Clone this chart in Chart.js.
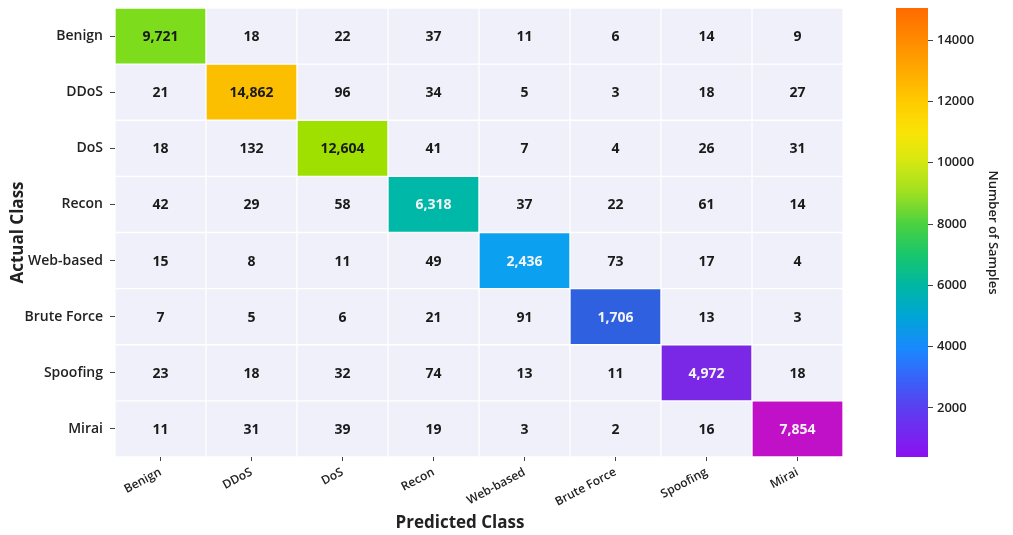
<!DOCTYPE html>
<html>
<head>
<meta charset="utf-8">
<script src="https://cdn.jsdelivr.net/npm/chart.js@4.4.1/dist/chart.umd.min.js"></script>
<style>
  html, body { margin: 0; padding: 0; background: #ffffff; }
  #wrap { position: relative; width: 1013px; height: 535px; }
  #main { position: absolute; left: 0; top: 0; }
  #cbar { position: absolute; left: 860px; top: 0; }
</style>
</head>
<body>
<div id="wrap">
  <canvas id="main" width="860" height="535"></canvas>
  <canvas id="cbar" width="153" height="535"></canvas>
</div>
<script>
// ---- data ----
const classes = ['Benign', 'DDoS', 'DoS', 'Recon', 'Web-based', 'Brute Force', 'Spoofing', 'Mirai'];
const rowBenign     = [9721, 18, 22, 37, 11, 6, 14, 9];
const rowDDoS       = [21, 14862, 96, 34, 5, 3, 18, 27];
const rowDoS        = [18, 132, 12604, 41, 7, 4, 26, 31];
const rowRecon      = [42, 29, 58, 6318, 37, 22, 61, 14];
const rowWebBased   = [15, 8, 11, 49, 2436, 73, 17, 4];
const rowBruteForce = [7, 5, 6, 21, 91, 1706, 13, 3];
const rowSpoofing   = [23, 18, 32, 74, 13, 11, 4972, 18];
const rowMirai      = [11, 31, 39, 19, 3, 2, 16, 7854];
const colorbarTicks = [2000, 4000, 6000, 8000, 10000, 12000, 14000];
const colorbarMin = 400;
const colorbarMax = 15050;

const matrix = [rowBenign, rowDDoS, rowDoS, rowRecon, rowWebBased, rowBruteForce, rowSpoofing, rowMirai];

// ---- styles ----
const diagColors = ['#7ddc1c', '#fcbf00', '#9fe000', '#00b8a8', '#0ca0f0', '#2e60e0', '#7a28e6', '#c010c8'];
const diagText   = ['#1a1a1a', '#1a1a1a', '#1a1a1a', '#f4f4f4', '#f4f4f4', '#f4f4f4', '#f4f4f4', '#f4f4f4'];
const offColor = '#f0f0fa';
const cmapStops = [
  [0.0, '#8a10f0'], [0.04, '#7a22f0'], [0.11, '#5a40f0'], [0.17, '#3a60f8'],
  [0.24, '#1a88ff'], [0.31, '#00a4d8'], [0.38, '#00b6a4'], [0.45, '#18c66c'],
  [0.52, '#4cd240'], [0.59, '#a0e020'], [0.66, '#d6e812'], [0.72, '#f8e406'],
  [0.79, '#ffcc00'], [0.86, '#ffaa00'], [0.93, '#ff8a00'], [1.0, '#ff6a00']
];
const FONT = "'Open Sans', 'Noto Sans', sans-serif";
const xTitle = 'Predicted Class';

const datasets = matrix.map((row, r) => ({
  label: classes[r],
  data: row.map(() => [r, r + 1]),
  counts: row,
  backgroundColor: row.map((v, c) => (c === r ? diagColors[r] : offColor)),
  textColors: row.map((v, c) => (c === r ? diagText[r] : '#1a1a1a')),
  borderColor: '#ffffff',
  borderWidth: 1,
  borderSkipped: false,
  grouped: false,
  barPercentage: 1,
  categoryPercentage: 1
}));

const cellText = {
  id: 'cellText',
  afterDatasetsDraw(chart) {
    const ctx = chart.ctx;
    ctx.save();
    ctx.font = "bold 14px " + FONT;
    ctx.textAlign = 'center';
    ctx.textBaseline = 'middle';
    chart.data.datasets.forEach((ds, di) => {
      const meta = chart.getDatasetMeta(di);
      meta.data.forEach((el, i) => {
        ctx.fillStyle = ds.textColors[i];
        ctx.fillText(ds.counts[i].toLocaleString('en-US'), el.x, (el.y + el.base) / 2 + 1);
      });
    });
    // x-axis title (slightly left of the plot centre as in the original)
    const ca = chart.chartArea;
    ctx.font = "bold 17px " + FONT;
    ctx.fillStyle = '#222';
    ctx.textBaseline = 'alphabetic';
    ctx.fillText(xTitle, (ca.left + ca.right) / 2 - 19, chart.height - 7);
    ctx.restore();
  }
};

new Chart(document.getElementById('main'), {
  type: 'bar',
  data: { labels: classes, datasets },
  options: {
    responsive: false,
    animation: false,
    layout: { padding: { top: 8, right: 17, left: 0, bottom: 0 } },
    plugins: { legend: { display: false }, tooltip: { enabled: false } },
    scales: {
      x: {
        type: 'category',
        grid: { offset: false, drawOnChartArea: false, drawTicks: true, tickLength: 4, color: '#444', lineWidth: 1 },
        border: { display: false },
        ticks: { color: '#222', font: { family: FONT, size: 12, weight: '600' }, minRotation: 28, maxRotation: 28, padding: 4 },
        afterFit(s) { s.height = 78; s.paddingLeft = 0; s.paddingRight = 0; }
      },
      y: {
        type: 'linear',
        min: 0, max: 8, reverse: true,
        afterBuildTicks(s) { s.ticks = classes.map((_, i) => ({ value: i + 0.5 })); },
        grid: { drawOnChartArea: false, drawTicks: true, tickLength: 5, color: '#444', lineWidth: 1 },
        border: { display: false },
        ticks: { color: '#222', font: { family: FONT, size: 14, weight: '600' }, padding: 7,
                 callback: (v) => classes[Math.floor(v)] },
        title: { display: true, text: 'Actual Class', color: '#222', font: { family: FONT, size: 17, weight: 'bold' }, padding: { top: 8, bottom: 0 } },
        afterFit(s) { s.width = 115; s.paddingTop = 0; s.paddingBottom = 0; }
      }
    }
  },
  plugins: [cellText]
});

// ---- colorbar ----
new Chart(document.getElementById('cbar'), {
  type: 'bar',
  data: {
    labels: [''],
    datasets: [{
      data: [[colorbarMin, colorbarMax]],
      barPercentage: 1,
      categoryPercentage: 1,
      borderWidth: 0,
      backgroundColor(ctx) {
        const chart = ctx.chart;
        const ys = chart.scales.y;
        if (!ys || !chart.chartArea) return '#888';
        const g = chart.ctx.createLinearGradient(0, ys.getPixelForValue(colorbarMin), 0, ys.getPixelForValue(colorbarMax));
        cmapStops.forEach(([p, c]) => g.addColorStop(p, c));
        return g;
      }
    }]
  },
  options: {
    responsive: false,
    animation: false,
    layout: { padding: { top: 8, left: 36, bottom: 78, right: 0 } },
    plugins: { legend: { display: false }, tooltip: { enabled: false } },
    scales: {
      x: { display: false },
      y: {
        position: 'right',
        min: colorbarMin, max: colorbarMax,
        afterBuildTicks(s) { s.ticks = colorbarTicks.map(v => ({ value: v })); },
        grid: { drawOnChartArea: false, drawTicks: true, tickLength: 5, color: '#444' },
        border: { display: false },
        ticks: { color: '#222', font: { family: FONT, size: 13, weight: '600' }, padding: 4, callback: (v) => String(v) },
        title: { display: true, text: 'Number of Samples', color: '#222', font: { family: FONT, size: 13, weight: '600' }, padding: { top: 12, bottom: 0 } },
        afterFit(s) { s.width = 85; s.paddingTop = 0; s.paddingBottom = 0; }
      }
    }
  }
});
</script>
</body>
</html>
